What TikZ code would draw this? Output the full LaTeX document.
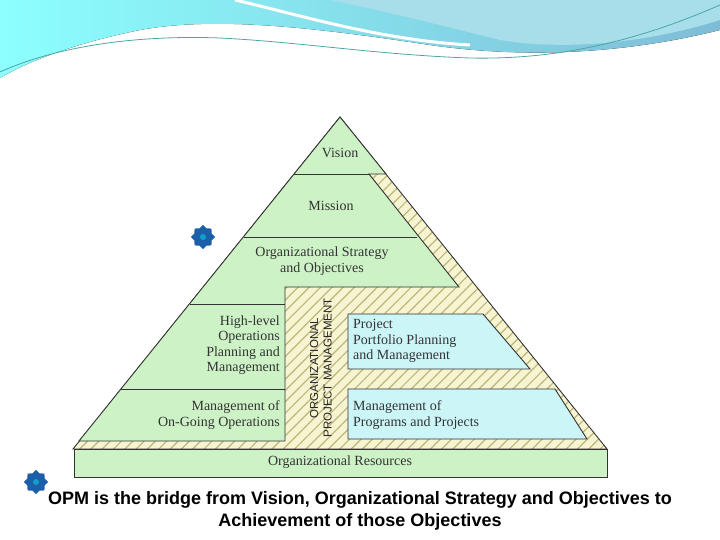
\documentclass[tikz,border=0pt]{standalone}
\usepackage{fontspec}
\setmainfont{Liberation Serif}
\setsansfont{Liberation Sans}
\usetikzlibrary{patterns.meta,shapes.geometric}
\definecolor{grn}{HTML}{CDF2C6}
\definecolor{blu}{HTML}{CCF5F8}
\definecolor{hatchbg}{HTML}{F7F4D2}
\definecolor{hatchln}{HTML}{BDB77C}
\definecolor{gear}{HTML}{1B5FA8}
\definecolor{wave1}{HTML}{7FBCD6}
\definecolor{wave2}{HTML}{A8DEEA}
\begin{document}
\begin{tikzpicture}[x=1pt,y=-1pt,
  lay/.style={draw=black!80,line width=0.9pt},
  lbl/.style={font=\fontsize{14}{15.5}\selectfont,text=black!80,inner sep=0pt},
  gearico/.style={star,star points=8,star point ratio=1.3,fill=gear,minimum size=24pt,inner sep=0pt}]
\useasboundingbox (0,0) rectangle (720,540);
% header waves
\fill[left color=cyan!45,right color=wave1] (0,0)--(720,0)--(720,30) .. controls (620,55) and (520,58) .. (430,45) .. controls (330,30) and (220,15) .. (140,30) .. controls (80,42) and (30,60) .. (0,78) -- cycle;
\fill[wave2] (330,0)--(720,0)--(720,20) .. controls (640,45) and (560,50) .. (500,40) .. controls (440,25) and (380,10) .. (330,0) -- cycle;
\draw[white,line width=3pt] (235,0) .. controls (300,15) and (380,40) .. (470,45);
\draw[teal!70,line width=0.8pt] (0,72) .. controls (60,45) and (140,35) .. (220,38) .. controls (300,42) and (380,55) .. (470,58) .. controls (560,60) and (640,40) .. (720,5);
% hatched triangle
\fill[hatchbg] (340,117)--(607,449)--(73,449)--cycle;
\fill[pattern={Lines[angle=45,distance=8pt,line width=1.2pt]},pattern color=hatchln] (340,117)--(607,449)--(73,449)--cycle;
\draw[lay] (340,117)--(607,449)--(73,449)--cycle;
% green region
\filldraw[lay,fill=grn] (340,117)--(386,174)--(369,174)--(459,287)--(285,287)--(285,441)--(79,441)--cycle;
\draw[lay] (294,174)--(369,174);
\draw[lay] (244,237)--(417,237);
\draw[lay] (190,304)--(285,304);
\draw[lay] (121,389)--(285,389);
% blue boxes
\filldraw[lay,fill=blu] (348,314)--(483,314)--(530,369)--(348,369)--cycle;
\filldraw[lay,fill=blu] (348,389)--(555,389)--(587,439)--(348,439)--cycle;
% resources bar
\filldraw[lay,fill=grn] (74,449) rectangle (607,477);
% labels
\node[lbl] (vis) at (340,153) {Vision};
\node[lbl] (mis) at (331,206) {Mission};
\node[lbl,align=center] (str) at (322,261) {Organizational Strategy\\and Objectives};
\node[lbl,align=right,anchor=east] (hl) at (280,345) {High-level\\Operations\\Planning and\\Management};
\node[lbl,align=right,anchor=east] (ong) at (280,415) {Management of\\On-Going Operations};
\node[lbl,align=left,anchor=west] (ppm) at (353,341) {Project\\Portfolio Planning\\and Management};
\node[lbl,align=left,anchor=west] (prg) at (353,415) {Management of\\Programs and Projects};
\node[lbl] (res) at (340,462) {Organizational Resources};
\node[font=\sffamily\fontsize{11.5}{13.5}\selectfont,align=center,rotate=90,inner sep=0pt,text=black!85] (opm) at (321,368) {ORGANIZATIONAL\\PROJECT MANAGEMENT};
% gears
\node[gearico] (g1) at (203,237) {};
\fill[gear!60!cyan] (g1.center) circle (3pt);
\node[gearico] (g2) at (36,482) {};
\fill[gear!60!cyan] (g2.center) circle (3pt);
% caption
\node[font=\sffamily\bfseries\fontsize{18}{22}\selectfont,align=center,inner sep=0pt] (cap) at (360,511) {OPM is the bridge from Vision, Organizational Strategy and Objectives to\\Achievement of those Objectives};
\end{tikzpicture}
\end{document}
